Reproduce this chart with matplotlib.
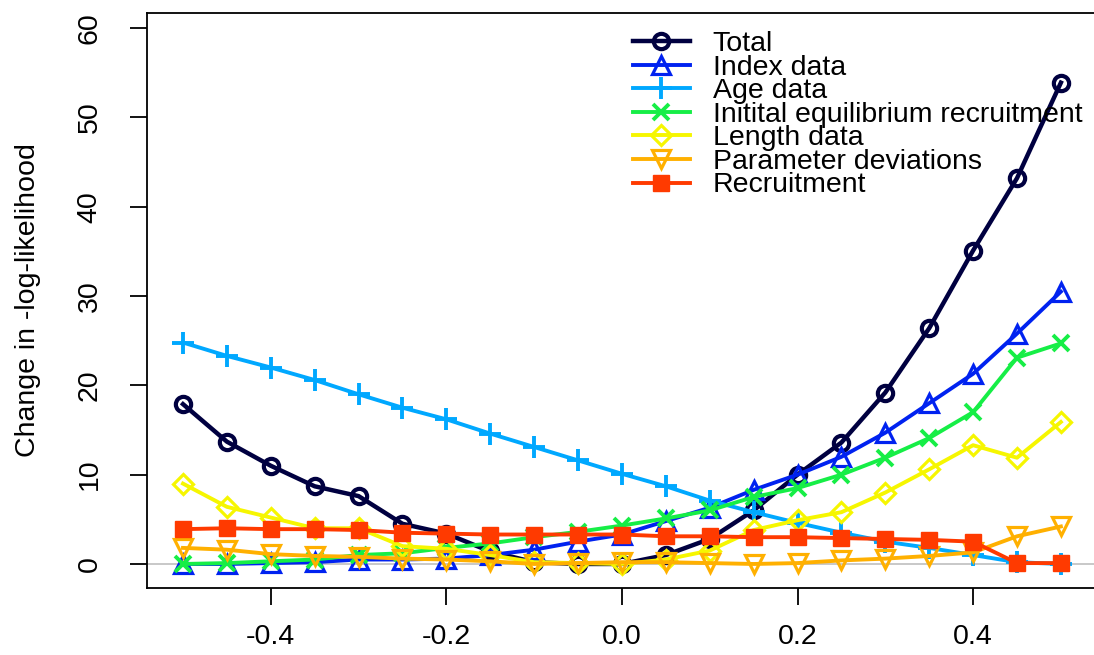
import matplotlib
matplotlib.use("Agg")
import matplotlib.pyplot as plt

x = [-0.5, -0.45, -0.4, -0.35, -0.3, -0.25, -0.2, -0.15, -0.1, -0.05, 0.0,
     0.05, 0.1, 0.15, 0.2, 0.25, 0.3, 0.35, 0.4, 0.45, 0.5]

total = [17.9, 13.7, 11.0, 8.7, 7.6, 4.5, 3.4, 1.4, 0.2, 0.0, 0.0,
         1.0, 2.8, 6.0, 10.0, 13.6, 19.2, 26.4, 35.1, 43.2, 53.9]
index_data = [0.0, 0.0, 0.1, 0.2, 0.5, 0.5, 0.6, 1.0, 1.6, 2.5, 3.3,
              4.8, 6.3, 8.3, 10.0, 12.0, 14.7, 18.0, 21.3, 25.8, 30.5]
age_data = [24.8, 23.3, 22.0, 20.6, 19.0, 17.5, 16.2, 14.6, 13.1, 11.6, 10.1,
            8.7, 7.1, 5.8, 4.6, 3.5, 2.5, 1.8, 1.0, 0.2, 0.0]
init_eq = [0.0, 0.1, 0.3, 0.5, 1.0, 1.2, 1.8, 2.3, 3.0, 3.6, 4.3,
           5.1, 6.0, 7.5, 8.5, 10.0, 11.9, 14.1, 17.0, 23.1, 24.7]
length_data = [9.0, 6.4, 5.2, 4.0, 4.0, 2.0, 1.7, 1.0, 0.2, 0.1, 0.0,
               0.5, 1.5, 3.8, 4.9, 5.8, 8.0, 10.6, 13.3, 11.9, 15.9]
param_dev = [1.8, 1.6, 1.1, 0.9, 0.8, 0.6, 0.5, 0.3, 0.0, 0.1, 0.2,
             0.2, 0.1, 0.0, 0.1, 0.4, 0.6, 0.9, 1.3, 3.1, 4.2]
recruitment = [3.9, 4.0, 3.9, 3.9, 3.8, 3.5, 3.4, 3.3, 3.3, 3.3, 3.3,
               3.1, 3.1, 3.0, 3.0, 2.9, 2.8, 2.7, 2.5, 0.1, 0.1]

labels = ["Total", "Index data", "Age data", "Initital equilibrium recruitment",
          "Length data", "Parameter deviations", "Recruitment"]
series = [total, index_data, age_data, init_eq, length_data, param_dev, recruitment]
colors = ["#000040", "#0022F0", "#00A8FF", "#16EE46", "#F6F600", "#FFB000", "#FF3A00"]
markers = ["o", "^", "+", "x", "D", "v", "s"]

xticks = [-0.4, -0.2, 0.0, 0.2, 0.4]
xticklabels = ["-0.4", "-0.2", "0.0", "0.2", "0.4"]
yticks = [0, 10, 20, 30, 40, 50, 60]

plt.rcParams['font.family'] = ['Liberation Sans', 'DejaVu Sans']
FS = 20.5

fig = plt.figure(figsize=(10.94, 6.55), dpi=100)
W, H = 1094, 655
left, right, top, bottom = 147, 1096, 13, 588
ax = fig.add_axes([left / W, 1 - bottom / H, (right - left) / W, (bottom - top) / H])

ax.axhline(0, color="#c4c4c4", lw=1.3, zorder=1)

for ys, lab, c, m in zip(series, labels, colors, markers):
    lw = 3.2 if m == "o" else 2.8
    kw = dict(color=c, lw=lw, marker=m, label=lab, zorder=2)
    if m == "o":
        kw.update(ms=11, mfc="none", mec=c, mew=3.0)
    elif m in ("^", "v"):
        kw.update(ms=12.5, mfc="none", mec=c, mew=2.3)
    elif m == "D":
        kw.update(ms=10.5, mfc="none", mec=c, mew=2.3)
    elif m == "+":
        kw.update(ms=16, mew=2.8)
    elif m == "x":
        kw.update(ms=11, mew=2.8)
    elif m == "s":
        kw.update(ms=12, mfc=c, mec=c)
    ax.plot(x, ys, **kw)

ax.set_xlim(-0.541, 0.54)
ax.set_ylim(-2.69, 61.7)
ax.set_xticks(xticks)
ax.set_xticklabels(xticklabels)
ax.set_yticks(yticks)
ax.set_yticklabels([str(v) for v in yticks], rotation=90, va="center")
ax.tick_params(axis="both", direction="out", length=12, width=1.3, labelsize=FS)
ax.tick_params(axis="x", pad=14)
ax.tick_params(axis="y", pad=20)
for s in ax.spines.values():
    s.set_linewidth(1.3)

ax.set_ylabel("Change in -log-likelihood", fontsize=FS)
ax.yaxis.set_label_coords((41 - left) / (right - left), 0.5)

leg = ax.legend(loc="upper left", bbox_to_anchor=(633 / W, 1 - 31 / H),
                bbox_transform=fig.transFigure, frameon=False, fontsize=FS,
                borderpad=0, borderaxespad=0, handlelength=2.0, handletextpad=0.8,
                labelspacing=-0.085)

fig.savefig("out.png", dpi=100)
